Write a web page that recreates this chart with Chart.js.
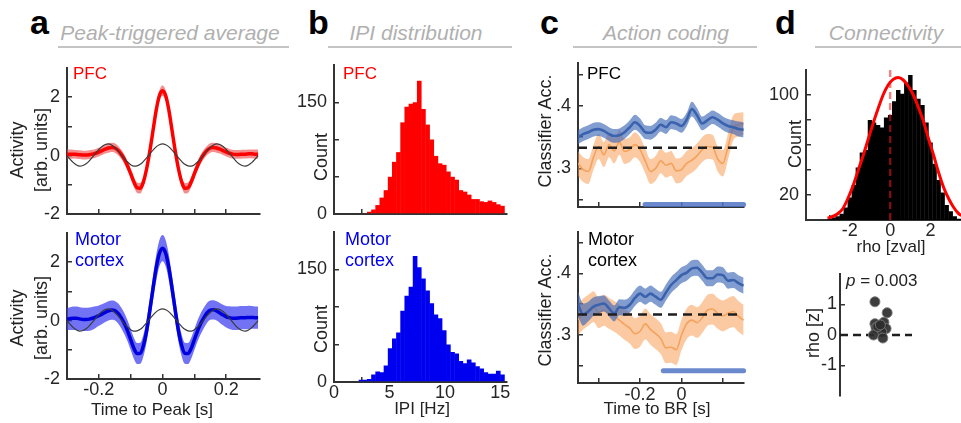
<!DOCTYPE html>
<html><head><meta charset="utf-8">
<script src="https://cdn.jsdelivr.net/npm/chart.js@4.4.1/dist/chart.umd.min.js"></script>
<style>
html,body{margin:0;padding:0;background:#fff;}
#fig{position:relative;width:961px;height:423px;overflow:hidden;font-family:"Liberation Sans",Arial,sans-serif;background:#fff;}
canvas{position:absolute;}
.t{position:absolute;white-space:nowrap;line-height:1;}
.u{position:absolute;height:2px;background:#c4c4c4;}
</style></head><body><div id="fig"></div>
<script>
// ---------------- DATA ----------------
// a: peak-triggered average
const peakTime = [-0.30,-0.29,-0.28,-0.27,-0.26,-0.25,-0.24,-0.23,-0.22,-0.21,-0.20,-0.19,-0.18,-0.17,-0.16,-0.15,-0.14,-0.13,-0.12,-0.11,-0.10,-0.09,-0.08,-0.07,-0.06,-0.05,-0.04,-0.03,-0.02,-0.01,0.00,0.01,0.02,0.03,0.04,0.05,0.06,0.07,0.08,0.09,0.10,0.11,0.12,0.13,0.14,0.15,0.16,0.17,0.18,0.19,0.20,0.21,0.22,0.23,0.24,0.25,0.26,0.27,0.28,0.29,0.30];
const pfcPTA = [0.05,0.05,0.05,0.04,0.03,0.02,0.02,0.03,0.05,0.08, 0.12,0.17,0.22,0.26,0.28,0.26,0.18,0.05,-0.12,-0.35, -0.62,-0.90,-1.10,-1.12,-0.90,-0.45,0.15,0.85,1.55,2.05, 2.22, 2.05,1.55,0.85,0.15,-0.45,-0.90,-1.12,-1.10,-0.90,-0.62, -0.35,-0.12,0.05,0.18,0.26,0.28,0.26,0.22,0.17,0.12, 0.08,0.05,0.04,0.04,0.05,0.05,0.06,0.06,0.05,0.05];
const pfcPTAsem = [0.16,0.16,0.15,0.15,0.15,0.15,0.15,0.15,0.15,0.15, 0.15,0.15,0.15,0.16,0.16,0.16,0.16,0.16,0.16,0.16, 0.17,0.17,0.18,0.18,0.17,0.16,0.16,0.17,0.18,0.18, 0.18, 0.18,0.18,0.17,0.16,0.16,0.17,0.18,0.18,0.17,0.17, 0.16,0.16,0.16,0.16,0.16,0.16,0.16,0.15,0.15,0.15, 0.15,0.15,0.15,0.15,0.15,0.15,0.15,0.15,0.16,0.16];
const motorPTA = [0.05,0.07,0.08,0.08,0.06,0.04,0.04,0.05,0.08,0.12, 0.17,0.22,0.28,0.33,0.36,0.34,0.25,0.10,-0.10,-0.35, -0.65,-0.95,-1.13,-1.12,-0.85,-0.35,0.35,1.10,1.80,2.30, 2.48, 2.30,1.80,1.10,0.35,-0.35,-0.85,-1.12,-1.13,-0.95,-0.65, -0.35,-0.10,0.10,0.27,0.36,0.37,0.33,0.26,0.19,0.13, 0.10,0.08,0.08,0.09,0.10,0.10,0.11,0.11,0.10,0.10];
const motorPTAsem = [0.38,0.39,0.40,0.40,0.40,0.40,0.40,0.40,0.39,0.37, 0.35,0.34,0.33,0.33,0.33,0.33,0.34,0.35,0.36,0.36, 0.36,0.36,0.36,0.36,0.37,0.38,0.40,0.42,0.44,0.45, 0.45, 0.45,0.44,0.42,0.40,0.38,0.37,0.36,0.36,0.36,0.36, 0.36,0.36,0.35,0.34,0.33,0.33,0.33,0.34,0.35,0.37, 0.39,0.40,0.40,0.40,0.40,0.40,0.40,0.39,0.38,0.38];
const oscRef = [0.00,-0.13,-0.24,-0.32,-0.36,-0.34,-0.28,-0.18,-0.05,0.08, 0.21,0.31,0.38,0.40,0.36,0.28,0.17,0.03,-0.10,-0.22, -0.31,-0.36,-0.35,-0.30,-0.20,-0.08,0.06,0.19,0.30,0.37, 0.40, 0.37,0.30,0.19,0.06,-0.08,-0.20,-0.30,-0.35,-0.36,-0.31, -0.22,-0.10,0.03,0.17,0.28,0.36,0.40,0.38,0.31,0.21, 0.08,-0.05,-0.18,-0.28,-0.34,-0.36,-0.32,-0.24,-0.13,0.00];

// b: IPI distribution (bin centres in Hz)
const ipiBins = [2.438,2.813,3.188,3.563,3.938,4.313,4.688,5.063,5.438,5.813,6.188,6.563,6.938,7.313,7.688,8.063,8.438,8.813,9.188,9.563,9.938,10.313,10.688,11.063,11.438,11.813,12.188,12.563,12.938,13.313,13.688,14.063,14.438,14.813,15.188];
const pfcIPICounts = [0,0,3,6,12,22,32,50,70,83,123,144,148,150,179,141,120,100,78,68,66,57,50,46,32,30,26,20,20,17,16,18,16,13,11];
const motorIPICounts = [3,3,4,10,14,13,22,45,58,66,95,115,127,168,153,138,122,105,90,85,69,50,40,38,28,25,30,26,21,18,13,11,11,15,10];

// c: action coding (time to BR, s)
const brTime = [-0.5,-0.475,-0.45,-0.425,-0.4,-0.375,-0.35,-0.325,-0.3,-0.275,-0.25,-0.225,-0.2,-0.175,-0.15,-0.125,-0.1,-0.075,-0.05,-0.025,0,0.025,0.05,0.075,0.1,0.125,0.15,0.175,0.2,0.225,0.25,0.275,0.3];
const pfcAccBlue = [0.350,0.355,0.358,0.362,0.363,0.360,0.355,0.352,0.353,0.358,0.366,0.374,0.368,0.358,0.357,0.362,0.370,0.366,0.374,0.372,0.368,0.378,0.395,0.385,0.372,0.377,0.382,0.378,0.372,0.368,0.366,0.363,0.362];
const pfcAccBlueSem = [0.011,0.011,0.011,0.011,0.011,0.011,0.011,0.011,0.011,0.011,0.011,0.012,0.012,0.011,0.011,0.011,0.011,0.011,0.011,0.011,0.011,0.011,0.012,0.012,0.011,0.011,0.011,0.011,0.011,0.011,0.011,0.012,0.012];
const pfcAccOrange = [0.308,0.298,0.295,0.318,0.335,0.322,0.338,0.328,0.342,0.327,0.330,0.338,0.330,0.312,0.295,0.300,0.312,0.305,0.308,0.296,0.298,0.308,0.313,0.320,0.330,0.335,0.334,0.315,0.308,0.335,0.365,0.370,0.372];
const pfcAccOrangeSem = [0.020,0.020,0.020,0.020,0.020,0.020,0.020,0.020,0.020,0.020,0.020,0.020,0.020,0.020,0.020,0.020,0.020,0.020,0.020,0.020,0.020,0.020,0.020,0.020,0.020,0.020,0.020,0.020,0.021,0.021,0.020,0.019,0.018];
const motorAccBlue = [0.350,0.333,0.338,0.346,0.349,0.351,0.343,0.335,0.345,0.344,0.349,0.360,0.367,0.362,0.367,0.362,0.357,0.369,0.381,0.389,0.397,0.401,0.408,0.409,0.401,0.392,0.392,0.398,0.397,0.388,0.389,0.384,0.380];
const motorAccBlueSem = [0.020,0.018,0.016,0.015,0.014,0.013,0.013,0.013,0.013,0.013,0.013,0.013,0.013,0.013,0.013,0.013,0.013,0.013,0.013,0.013,0.013,0.013,0.013,0.013,0.013,0.013,0.013,0.013,0.013,0.013,0.013,0.013,0.013];
const motorAccOrange = [0.325,0.334,0.340,0.346,0.336,0.340,0.335,0.330,0.324,0.317,0.311,0.302,0.306,0.318,0.309,0.302,0.294,0.279,0.280,0.276,0.300,0.318,0.324,0.320,0.328,0.340,0.342,0.335,0.331,0.335,0.338,0.330,0.324];
const motorAccOrangeSem = [0.025,0.025,0.025,0.025,0.025,0.025,0.025,0.025,0.025,0.025,0.025,0.025,0.025,0.025,0.025,0.025,0.025,0.025,0.025,0.025,0.025,0.025,0.025,0.025,0.025,0.025,0.025,0.025,0.025,0.025,0.025,0.025,0.025];
const chanceLevel = 0.333;
const sigLevel = 0.242;
const sigWindowPFC = [-0.176, 0.3];
const sigWindowMotor = [-0.088, 0.3];

// d: connectivity
const rhoBins = [-3.0,-2.8,-2.6,-2.4,-2.2,-2.0,-1.8,-1.6,-1.4,-1.2,-1.0,-0.8,-0.6,-0.4,-0.2,0.0,0.2,0.4,0.6,0.8,1.0,1.2,1.4,1.6,1.8,2.0,2.2,2.4,2.6,2.8,3.0,3.2,3.4];
const rhoCounts = [1,2,3,5,10,18,28,42,54,56,80,78,76,74,82,84,95,104,101,110,116,104,97,92,78,62,45,32,22,12,7,3,1];
const rhoFitX = [-3.1,-2.85,-2.6,-2.35,-2.1,-1.85,-1.6,-1.35,-1.1,-0.85,-0.6,-0.35,-0.1,0.15,0.4,0.65,0.9,1.15,1.4,1.65,1.9,2.15,2.4,2.65,2.9,3.15,3.4,3.65];
const rhoFitY = [1.5,2.8,5,9,17,27,39,51,64,77,89,100,108,112.5,114,112,107,100,90,79,65,52,38,26,17,10,5,3];
const sessionX = [0.97,1.31,0.97,1.22,1.28,1.00,1.16,0.93,1.19,1.05,1.12];
const sessionRho = [1.09,0.73,0.37,0.42,0.21,0.24,0.10,0.00,-0.10,0.28,0.33];

// ---------------- HELPERS ----------------
const FONT = '"Liberation Sans", Arial, sans-serif';
const AX = '#333333';
const fig = document.getElementById('fig');
const xy = (xs, ys) => xs.map((x, i) => ({x: x, y: ys[i]}));

function txt(s, x, y, o) {
  o = o || {};
  const d = document.createElement('div');
  d.className = 't'; d.innerHTML = s;
  d.style.left = x + 'px'; d.style.top = y + 'px';
  d.style.fontSize = (o.size || 17) + 'px';
  d.style.color = o.color || '#222';
  if (o.bold) d.style.fontWeight = 'bold';
  if (o.italic) d.style.fontStyle = 'italic';
  const ax = o.anchor === 'middle' ? '-50%' : (o.anchor === 'end' ? '-100%' : '0');
  d.style.transform = 'translate(' + ax + ',-50%)' + (o.rot ? ' rotate(-90deg)' : '');
  fig.appendChild(d);
}
function uline(x1, x2, y) {
  const d = document.createElement('div');
  d.className = 'u';
  d.style.left = x1 + 'px'; d.style.width = (x2 - x1) + 'px'; d.style.top = y + 'px';
  fig.appendChild(d);
}
function tickCb(labels, marks) {
  return function (v) {
    const r = Math.round(v * 10000) / 10000;
    const k = String(r === 0 ? 0 : r);
    if (labels && Object.prototype.hasOwnProperty.call(labels, k)) return labels[k];
    if (marks && marks.some(m => Math.abs(m - r) < 1e-6)) return '';
    return null;
  };
}
function axis(pos, min, max, step, labels, marks, size, pad, extra) {
  const isY = pos === 'left';
  return Object.assign({
    type: 'linear', position: pos, min: min, max: max, offset: false,
    afterFit: s => {
      if (isY) s.width = size; else s.height = size;
      s.paddingTop = 0; s.paddingBottom = 0; s.paddingLeft = 0; s.paddingRight = 0;
    },
    border: {display: true, color: AX, width: 2},
    grid: {drawOnChartArea: false, drawTicks: true, tickLength: -5, color: AX, lineWidth: 1.5},
    ticks: {stepSize: step, includeBounds: false, autoSkip: false, maxRotation: 0, minRotation: 0,
            padding: pad, color: '#262626', font: {family: FONT, size: 18}, callback: tickCb(labels, marks)}
  }, extra || {});
}
function mk(area, m, config) {
  const c = document.createElement('canvas');
  const w = area.r - area.l + m.l + m.r, h = area.b - area.t + m.t + m.b;
  c.width = w; c.height = h;
  c.style.left = (area.l - m.l) + 'px'; c.style.top = (area.t - m.t) + 'px';
  c.style.width = w + 'px'; c.style.height = h + 'px';
  fig.appendChild(c);
  config.options = Object.assign({
    responsive: false, animation: false, devicePixelRatio: 1,
    layout: {padding: {top: m.t, right: m.r, left: m.padL || 0, bottom: m.padB || 0}},
    plugins: {legend: {display: false}, tooltip: {enabled: false}},
    elements: {point: {radius: 0}}
  }, config.options);
  return new Chart(c, config);
}
function bandSets(xs, mean, sem, band, line, lw, ord) {
  return [
    {data: xy(xs, mean.map((v, i) => v - sem[i])), borderWidth: 0, pointRadius: 0, fill: false, cubicInterpolationMode: 'monotone', order: ord + 2},
    {data: xy(xs, mean.map((v, i) => v + sem[i])), borderWidth: 0, pointRadius: 0, fill: '-1', backgroundColor: band, cubicInterpolationMode: 'monotone', order: ord + 1},
    {data: xy(xs, mean), borderColor: line, borderWidth: lw, pointRadius: 0, fill: false, cubicInterpolationMode: 'monotone', order: ord}
  ];
}

// ---------------- PANEL A ----------------
const aY = {'-2': '-2', '0': '0', '2': '2'};
function panelA(area, mean, sem, band, line, showX) {
  mk(area, {l: 45, t: 4, r: 4, b: showX ? 30 : 10}, {
    type: 'line',
    data: {datasets: [
      ...bandSets(peakTime, mean, sem, band, line, 3.5, 1),
      {data: xy(peakTime, oscRef), borderColor: '#3a3a3a', borderWidth: 1.2, pointRadius: 0, fill: false, cubicInterpolationMode: 'monotone', order: 0}
    ]},
    options: {scales: {
      x: axis('bottom', -0.3, 0.306, 0.1, showX ? {'-0.2': '-0.2', '0': '0', '0.2': '0.2'} : {}, [-0.2, -0.1, 0, 0.1, 0.2], showX ? 30 : 10, 5),
      y: axis('left', -2, 3, 1, aY, [-1, 1], 45, 12)
    }}
  });
}
panelA({l: 67, t: 68, r: 260, b: 214}, pfcPTA, pfcPTAsem, 'rgba(238,80,80,0.65)', '#ff0000', false);
panelA({l: 67, t: 233, r: 260, b: 379}, motorPTA, motorPTAsem, 'rgba(60,60,240,0.72)', '#0000dd', true);

// ---------------- PANEL B ----------------
function panelB(area, counts, color, showX) {
  mk(area, {l: 45, t: 4, r: 6, b: showX ? 30 : 10}, {
    type: 'bar',
    data: {datasets: [{data: xy(ipiBins, counts), backgroundColor: color, borderWidth: 0, barPercentage: 1.12, categoryPercentage: 1}]},
    options: {scales: {
      x: axis('bottom', 0, 15.6, 5, showX ? {'0': '0', '5': '5', '10': '10', '15': '15'} : {}, [0, 5, 10, 15], showX ? 30 : 10, 5),
      y: axis('left', 0, 200, 50, {'0': '0', '150': '150'}, [50, 100], 45, 12)
    }}
  });
}
panelB({l: 334, t: 65, r: 507, b: 214}, pfcIPICounts, '#ff0000', false);
panelB({l: 334, t: 232, r: 507, b: 382}, motorIPICounts, '#0000f0', true);

// ---------------- PANEL C ----------------
function panelC(area, ymin, ymax, blue, blueSem, orange, orangeSem, sig, showX) {
  mk(area, {l: 45, t: 4, r: 6, b: showX ? 30 : 10}, {
    type: 'line',
    data: {datasets: [
      ...bandSets(brTime, orange, orangeSem, 'rgba(248,150,70,0.5)', '#f5a25c', 1.6, 6),
      ...bandSets(brTime, blue, blueSem, 'rgba(66,106,184,0.66)', '#3a62ad', 2.6, 3),
      {data: [{x: -0.5, y: chanceLevel}, {x: 0.29, y: chanceLevel}], borderColor: '#1e1e1e', borderWidth: 2.5, borderDash: [9, 6], pointRadius: 0, fill: false, order: 1},
      {data: [{x: sig[0], y: sigLevel}, {x: sig[1], y: sigLevel}], borderColor: 'rgba(80,118,196,0.85)', borderWidth: 5, borderCapStyle: 'round', pointRadius: 0, fill: false, order: 0, clip: false}
    ]},
    options: {scales: {
      x: axis('bottom', -0.5, 0.302, 0.2, showX ? {'-0.2': '-0.2', '0': '0'} : {}, [-0.4, -0.2, 0, 0.2], showX ? 30 : 10, 6),
      y: axis('left', ymin, ymax, 0.05, {'0.4': '.4', '0.3': '.3'}, [0.25, 0.35, 0.45], 45, 12)
    }}
  });
}
panelC({l: 578, t: 63, r: 744, b: 207}, 0.238, 0.469, pfcAccBlue, pfcAccBlueSem, pfcAccOrange, pfcAccOrangeSem, sigWindowPFC, false);
panelC({l: 578, t: 232, r: 744, b: 383}, 0.222, 0.467, motorAccBlue, motorAccBlueSem, motorAccOrange, motorAccOrangeSem, sigWindowMotor, true);

// ---------------- PANEL D ----------------
mk({l: 806, t: 70, r: 961, b: 220}, {l: 45, t: 4, r: 0, b: 30}, {
  type: 'bar',
  data: {datasets: [
    {type: 'line', data: xy(rhoFitX, rhoFitY), borderColor: '#ff0000', borderWidth: 3, pointRadius: 0, fill: false, cubicInterpolationMode: 'monotone', order: 0},
    {type: 'line', data: [{x: 0, y: 0}, {x: 0, y: 120}], borderColor: 'rgba(225,30,30,0.55)', borderWidth: 2.5, borderDash: [7, 4], pointRadius: 0, fill: false, order: 1},
    {data: xy(rhoBins, rhoCounts), backgroundColor: '#000000', borderWidth: 0, barPercentage: 1.1, categoryPercentage: 1, order: 2}
  ]},
  options: {scales: {
    x: axis('bottom', -4.17, 3.51, 2, {'-2': '-2', '0': '0', '2': '2'}, [], 30, 5),
    y: axis('left', 0, 120, 20, {'20': '20', '100': '100'}, [40, 60, 80], 45, 12)
  }}
});
mk({l: 840, t: 272, r: 912, b: 398}, {l: 30, t: 4, r: 6, b: 4, padB: 4}, {
  type: 'scatter',
  data: {datasets: [
    {data: xy(sessionX, sessionRho), pointRadius: 5, backgroundColor: 'rgba(45,45,45,0.92)', borderColor: 'rgba(120,120,120,0.9)', borderWidth: 1, order: 0},
    {type: 'line', data: [{x: 0, y: 0}, {x: 2, y: 0}], borderColor: '#1e1e1e', borderWidth: 2.5, borderDash: [8, 5], pointRadius: 0, fill: false, order: 1}
  ]},
  options: {scales: {
    x: {type: 'linear', min: 0, max: 2, display: false},
    y: axis('left', -2, 2, 1, {'1': '1', '0': '0', '-1': '-1'}, [], 30, 8)
  }}
});

// ---------------- TEXT ----------------
const L = {size: 34, bold: true, color: '#000'};
txt('a', 30, 22, L); txt('b', 308, 22, L); txt('c', 540, 22, L); txt('d', 775, 22, L);
const H = {size: 21, italic: true, color: '#b0b0b0', anchor: 'middle'};
txt('Peak-triggered average', 170, 32, H);
txt('IPI distribution', 416, 32, H);
txt('Action coding', 666, 32, H);
txt('Connectivity', 886, 32, H);
uline(58, 289, 46); uline(328, 512, 46); uline(573, 757, 46); uline(815, 961, 46);

txt('PFC', 73, 73, {size: 17, color: '#ff0000'});
txt('Motor', 75, 239, {size: 18, color: '#0000ee'});
txt('cortex', 75, 260, {size: 18, color: '#0000ee'});
txt('PFC', 343, 73, {size: 17, color: '#ff0000'});
txt('Motor', 345, 239, {size: 18, color: '#0000ee'});
txt('cortex', 345, 260, {size: 18, color: '#0000ee'});
txt('PFC', 587, 73, {size: 17, color: '#000'});
txt('Motor', 588, 239, {size: 18, color: '#000'});
txt('cortex', 588, 260, {size: 18, color: '#000'});

const R = {size: 18, rot: true, anchor: 'middle', color: '#222'};
txt('Activity', 17, 150, R); txt('[arb. units]', 41, 150, R);
txt('Activity', 17, 318, R); txt('[arb. units]', 41, 318, R);
txt('Count', 321, 157, R); txt('Count', 321, 329, R);
txt('Classifier Acc.', 545, 131, R); txt('Classifier Acc.', 545, 310, R);
txt('Count', 795, 144, R);
txt('rho [z]', 813, 333, R);

const X = {size: 17, anchor: 'middle', color: '#222'};
txt('Time to Peak [s]', 152, 409, X);
txt('IPI [Hz]', 422, 408, X);
txt('Time to BR [s]', 657, 408, X);
txt('rho [zval]', 891, 246, X);
txt('<i>p</i> = 0.003', 846, 280, {size: 17, color: '#222'});
</script></body></html>
